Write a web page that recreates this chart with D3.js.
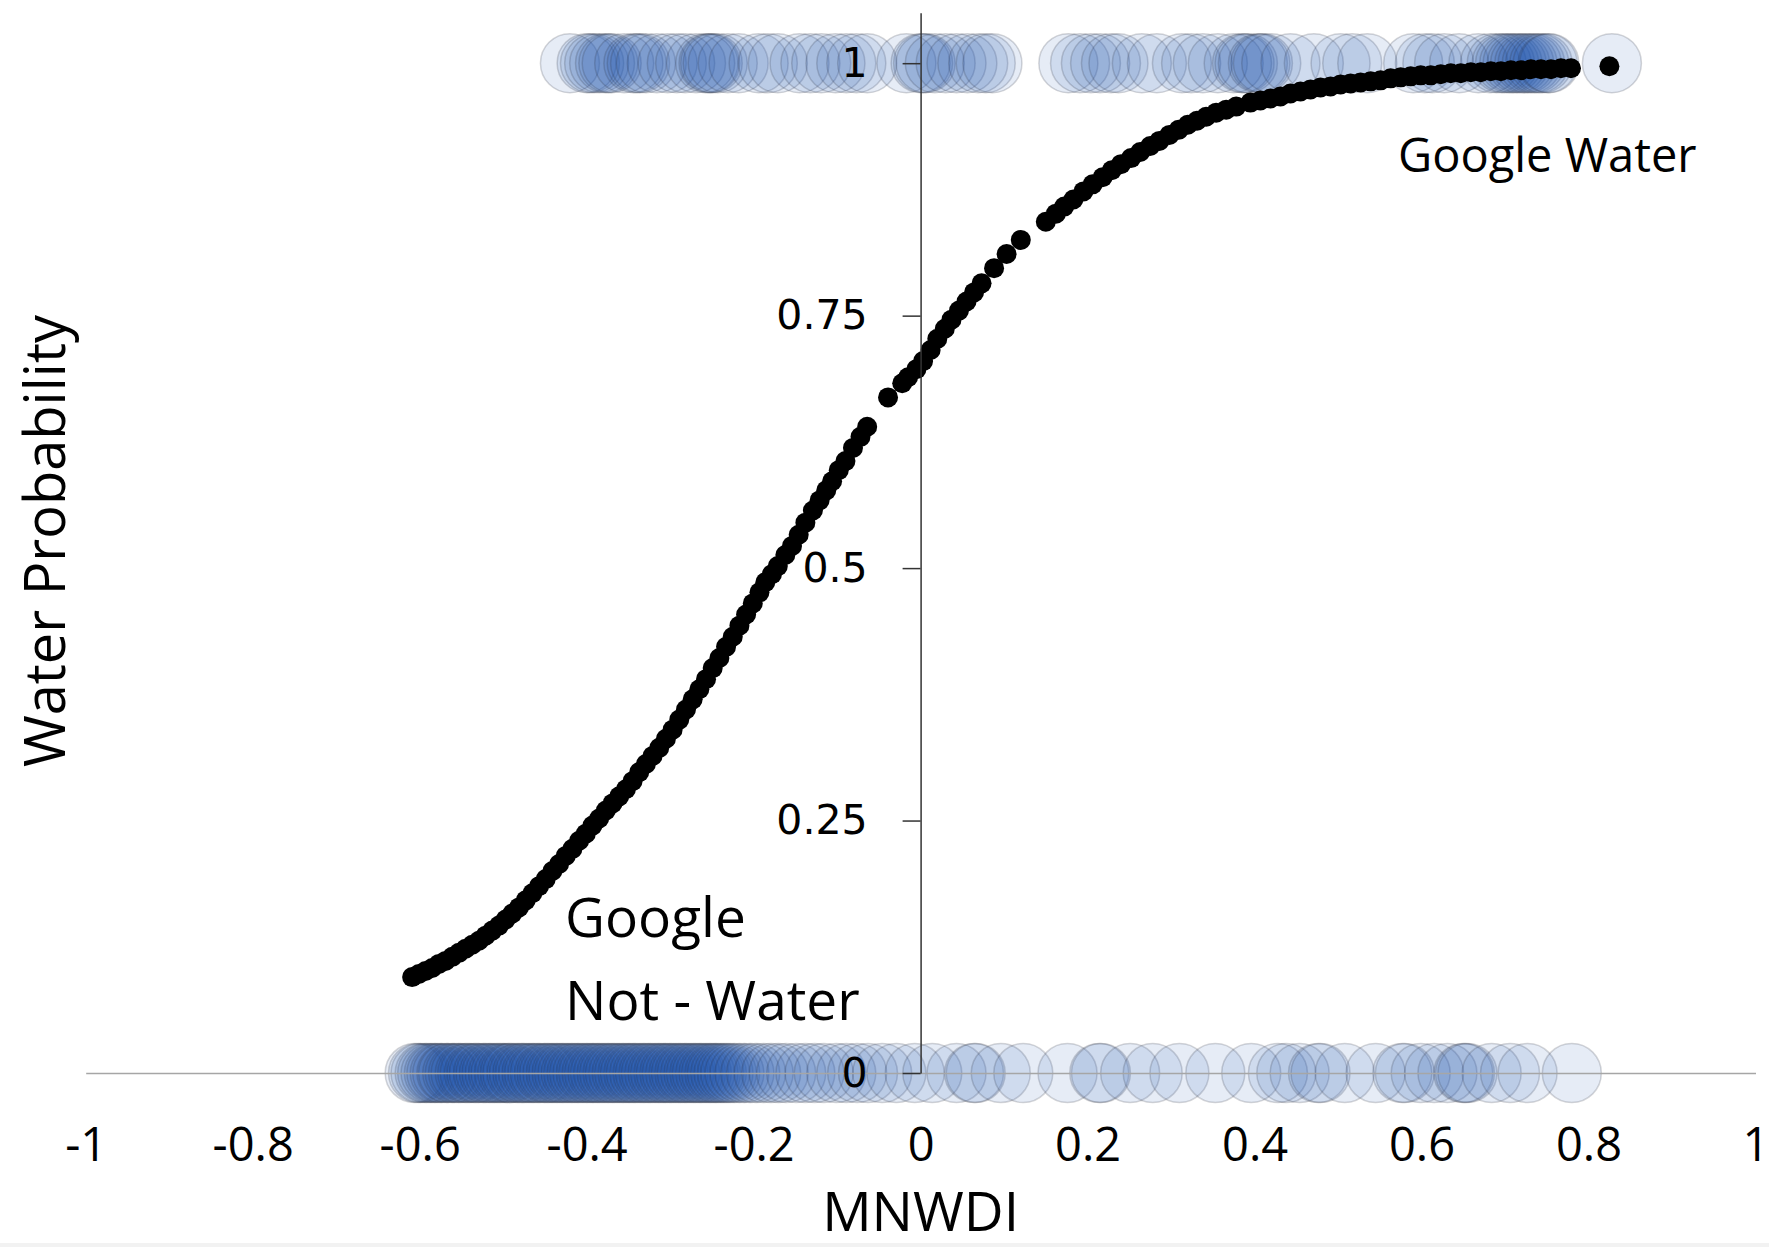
<!DOCTYPE html>
<html>
<head>
<meta charset="utf-8">
<script src="https://cdn.jsdelivr.net/npm/d3@7"></script>
<style>
  body { margin: 0; background: #fff; }
  svg { display: block; }
</style>
</head>
<body>
<svg></svg>
<script>
// fitted water probability (black dots)
const curveX = [
  -0.609, -0.601, -0.593, -0.585, -0.577, -0.569, -0.561, -0.553, -0.545, -0.537,
  -0.529, -0.521, -0.513, -0.505, -0.497, -0.489, -0.481, -0.473, -0.465, -0.457,
  -0.449, -0.441, -0.433, -0.425, -0.417, -0.409, -0.401, -0.393, -0.385, -0.377,
  -0.369, -0.361, -0.353, -0.345, -0.337, -0.329, -0.321, -0.313, -0.305, -0.297,
  -0.289, -0.281, -0.273, -0.265, -0.257, -0.249, -0.241, -0.233, -0.225, -0.217,
  -0.209, -0.201, -0.193, -0.186, -0.178, -0.171, -0.162, -0.154, -0.146, -0.138,
  -0.129, -0.121, -0.113, -0.106, -0.098, -0.090, -0.081, -0.072, -0.064, -0.039,
  -0.022, -0.015, -0.005, 0.003, 0.012, 0.020, 0.029, 0.037, 0.046, 0.055,
  0.064, 0.073, 0.088, 0.103, 0.120, 0.150, 0.162, 0.172, 0.183, 0.195,
  0.206, 0.218, 0.229, 0.240, 0.252, 0.263, 0.275, 0.286, 0.298, 0.309,
  0.320, 0.331, 0.342, 0.354, 0.366, 0.378, 0.395, 0.407, 0.419, 0.431,
  0.443, 0.455, 0.467, 0.479, 0.491, 0.503, 0.515, 0.527, 0.539, 0.551,
  0.563, 0.575, 0.587, 0.599, 0.611, 0.623, 0.635, 0.647, 0.659, 0.671,
  0.683, 0.695, 0.707, 0.719, 0.731, 0.743, 0.755, 0.767, 0.779, 0.825
];
const curveP = [
  0.095, 0.098, 0.101, 0.104, 0.108, 0.111, 0.115, 0.119, 0.123, 0.127,
  0.131, 0.136, 0.141, 0.146, 0.152, 0.158, 0.164, 0.171, 0.178, 0.185,
  0.192, 0.200, 0.207, 0.215, 0.222, 0.230, 0.237, 0.245, 0.252, 0.260,
  0.267, 0.274, 0.281, 0.289, 0.298, 0.306, 0.314, 0.322, 0.331, 0.340,
  0.350, 0.360, 0.370, 0.380, 0.390, 0.401, 0.411, 0.422, 0.432, 0.443,
  0.454, 0.465, 0.476, 0.486, 0.494, 0.502, 0.513, 0.522, 0.533, 0.545,
  0.557, 0.567, 0.577, 0.586, 0.597, 0.606, 0.619, 0.630, 0.640, 0.669,
  0.683, 0.689, 0.697, 0.705, 0.716, 0.727, 0.737, 0.746, 0.755, 0.764,
  0.773, 0.782, 0.797, 0.811, 0.825, 0.843, 0.851, 0.858, 0.865, 0.873,
  0.880, 0.887, 0.894, 0.900, 0.906, 0.912, 0.918, 0.923, 0.929, 0.934,
  0.939, 0.943, 0.947, 0.951, 0.954, 0.957, 0.961, 0.963, 0.965, 0.967,
  0.970, 0.972, 0.974, 0.976, 0.977, 0.979, 0.980, 0.981, 0.982, 0.983,
  0.985, 0.986, 0.987, 0.988, 0.988, 0.989, 0.990, 0.990, 0.991, 0.991,
  0.992, 0.992, 0.993, 0.993, 0.994, 0.994, 0.994, 0.995, 0.995, 0.997
];

// observed MNWDI of Google water pixels (p = 1)
const waterX = [
  -0.420, -0.400, -0.396, -0.391, -0.385, -0.378, -0.374, -0.370, -0.355, -0.344,
  -0.340, -0.336, -0.329, -0.316, -0.303, -0.292, -0.282, -0.269, -0.258, -0.254,
  -0.252, -0.249, -0.243, -0.231, -0.218, -0.194, -0.183, -0.171, -0.145, -0.132,
  -0.119, -0.102, -0.089, -0.077, -0.064, -0.017, 0.000, 0.003, 0.006, 0.017,
  0.030, 0.043, 0.056, 0.069, 0.078, 0.086,
  0.177, 0.191, 0.204, 0.215, 0.228, 0.237, 0.265, 0.283, 0.313, 0.324,
  0.338, 0.356, 0.375, 0.385, 0.388, 0.392, 0.404, 0.407, 0.410, 0.420,
  0.443, 0.471, 0.503, 0.517, 0.535, 0.590, 0.604, 0.613, 0.627, 0.645,
  0.668, 0.682, 0.690, 0.696, 0.700, 0.705, 0.709, 0.714, 0.718, 0.723,
  0.727, 0.732, 0.736, 0.741, 0.745, 0.751, 0.753, 0.828
];

// observed MNWDI of Google not-water pixels (p = 0)
const notWaterX = [
  -0.606, -0.602, -0.599, -0.594, -0.591, -0.587, -0.583, -0.580, -0.576, -0.573,
  -0.568, -0.566, -0.561, -0.558, -0.554, -0.551, -0.546, -0.543, -0.540, -0.535,
  -0.532, -0.529, -0.524, -0.521, -0.517, -0.514, -0.510, -0.506, -0.503, -0.499,
  -0.495, -0.492, -0.489, -0.484, -0.481, -0.477, -0.474, -0.470, -0.466, -0.463,
  -0.459, -0.456, -0.451, -0.448, -0.445, -0.441, -0.437, -0.434, -0.430, -0.427,
  -0.423, -0.419, -0.416, -0.412, -0.409, -0.405, -0.401, -0.398, -0.394, -0.391,
  -0.387, -0.384, -0.380, -0.376, -0.373, -0.369, -0.366, -0.362, -0.358, -0.355,
  -0.351, -0.348, -0.344, -0.341, -0.337, -0.333, -0.330, -0.326, -0.323, -0.319,
  -0.315, -0.312, -0.308, -0.305, -0.301, -0.298, -0.294, -0.290, -0.287, -0.283,
  -0.280, -0.276, -0.272, -0.269, -0.265, -0.262, -0.258, -0.254, -0.251, -0.247,
  -0.244, -0.240, -0.236, -0.232, -0.228, -0.223, -0.217, -0.211, -0.204, -0.197,
  -0.188, -0.179, -0.170,
  -0.161, -0.149, -0.138, -0.127, -0.116, -0.101, -0.089, -0.076, -0.063, -0.046,
  -0.029, -0.007, 0.014, 0.043, 0.064, 0.066, 0.096, 0.123, 0.176, 0.214,
  0.216, 0.251, 0.278, 0.310, 0.353, 0.396, 0.428, 0.438, 0.454, 0.476,
  0.479, 0.508, 0.545, 0.577, 0.580, 0.599, 0.615, 0.631, 0.650, 0.652,
  0.655, 0.684, 0.706, 0.727, 0.780
];

const xTicks = [-1, -0.8, -0.6, -0.4, -0.2, 0, 0.2, 0.4, 0.6, 0.8, 1];
const yTicks = [0, 0.25, 0.5, 0.75, 1];

const svg = d3.select("svg").attr("width", 1769).attr("height", 1247);
const textFont = "'Open Sans', sans-serif";

const x = d3.scaleLinear().domain([-1, 1]).range([85.7, 1755.5]);
const y = d3.scaleLinear().domain([0, 1.05]).range([1073, 12.7]);

const obs = notWaterX.map(v => ({ x: v, p: 0 }))
  .concat(waterX.map(v => ({ x: v, p: 1 })));

svg.append("g").selectAll("circle")
  .data(obs)
  .join("circle")
  .attr("cx", d => x(d.x))
  .attr("cy", d => y(d.p))
  .attr("r", 29.5)
  .attr("fill", "#1f56b0")
  .attr("fill-opacity", 0.11)
  .attr("stroke", "#2a2f3a")
  .attr("stroke-opacity", 0.2)
  .attr("stroke-width", 1.5);

svg.append("g").selectAll("circle")
  .data(curveX.map((v, i) => ({ x: v, p: curveP[i] })))
  .join("circle")
  .attr("cx", d => x(d.x))
  .attr("cy", d => y(d.p))
  .attr("r", 10)
  .attr("fill", "#000");

// x axis: line through 0, labels below
const xAxis = svg.append("g")
  .attr("transform", `translate(0,${y(0)})`)
  .call(d3.axisBottom(x).tickValues(xTicks).tickSize(0).tickSizeOuter(0)
    .tickPadding(55).tickFormat(d => String(d)));
xAxis.select(".domain").attr("stroke", "#a6a6a6").attr("stroke-width", 1.5);
xAxis.selectAll("text")
  .attr("font-family", textFont)
  .attr("font-size", 47)
  .attr("fill", "#000");

// y axis crossing at MNWDI = 0
const yAxis = svg.append("g")
  .attr("transform", `translate(${x(0)},0)`)
  .call(d3.axisLeft(y).tickValues(yTicks).tickSize(18).tickSizeOuter(0)
    .tickPadding(35).tickFormat(d => String(d)));
yAxis.select(".domain").attr("stroke", "#333").attr("stroke-width", 1.5);
yAxis.selectAll(".tick line").attr("stroke", "#333").attr("stroke-width", 1.5);
yAxis.selectAll("text")
  .attr("font-family", "'DejaVu Sans', sans-serif")
  .attr("font-size", 41)
  .attr("fill", "#000");

// titles
svg.append("text")
  .attr("transform", `translate(65, 541) rotate(-90)`)
  .attr("text-anchor", "middle")
  .attr("font-family", textFont)
  .attr("font-size", 56)
  .text("Water Probability");

svg.append("text")
  .attr("x", x(0))
  .attr("y", 1231)
  .attr("text-anchor", "middle")
  .attr("font-family", textFont)
  .attr("font-size", 55)
  .text("MNWDI");

// annotations
svg.append("text")
  .attr("x", 1398)
  .attr("y", 172)
  .attr("font-family", textFont)
  .attr("font-size", 47)
  .text("Google Water");

const nw = svg.append("text")
  .attr("font-family", textFont)
  .attr("font-size", 55);
nw.append("tspan").attr("x", 565).attr("y", 937).text("Google");
nw.append("tspan").attr("x", 565).attr("y", 1020).text("Not - Water");

svg.append("rect")
  .attr("x", 0).attr("y", 1243)
  .attr("width", 1769).attr("height", 4)
  .attr("fill", "#f2f2f2");
</script>
</body>
</html>
